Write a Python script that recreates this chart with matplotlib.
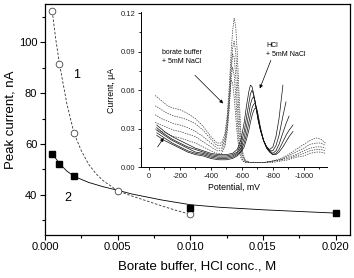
import numpy as np
import matplotlib
matplotlib.use('Agg')
import matplotlib.pyplot as plt
from matplotlib.ticker import MultipleLocator

plt.rcParams['font.family'] = ['Liberation Sans', 'DejaVu Sans']
plt.rcParams['axes.unicode_minus'] = False

# main plot: peak current vs electrolyte concentration
conc_borate = [0.0005, 0.001, 0.002, 0.005, 0.010]
peak_borate = [112.3, 91.5, 64.2, 41.5, 32.2]
conc_hcl = [0.0005, 0.001, 0.002, 0.010, 0.020]
peak_hcl = [56.0, 52.0, 47.2, 34.8, 32.7]

# fitted curves
fit1_x = [0.0005, 0.00075, 0.001, 0.0015, 0.002, 0.0025, 0.003, 0.0035, 0.004,
          0.005, 0.006, 0.007, 0.008, 0.009, 0.010]
fit1_y = [112.3, 101.0, 91.5, 76.0, 64.2, 57.3, 52.0, 48.3, 45.5,
          41.5, 39.4, 37.5, 35.6, 33.8, 32.2]
fit2_x = [0.0005, 0.001, 0.0015, 0.002, 0.003, 0.004, 0.005, 0.006, 0.008,
          0.010, 0.012, 0.015, 0.018, 0.020]
fit2_y = [56.2, 52.2, 49.3, 47.2, 44.8, 43.1, 41.7, 40.2, 37.9,
          36.0, 35.0, 34.0, 33.2, 32.7]

# inset: voltammograms (potential in mV, current in uA)
pot_borate = [-40, -80, -120, -160, -200, -250, -300, -350, -400, -440, -470,
              -490, -505, -518, -530, -540, -550, -560, -570, -580, -592,
              -605, -620, -650, -700, -750, -800, -850, -900, -950, -1000,
              -1040, -1080, -1110, -1140]
borate_1 = [0.056, 0.052, 0.048, 0.046, 0.045, 0.042, 0.038, 0.032, 0.024, 0.019, 0.019,
            0.026, 0.040, 0.062, 0.088, 0.106, 0.116, 0.110, 0.090, 0.062, 0.030,
            0.012, 0.006, 0.004, 0.004, 0.004, 0.005, 0.007, 0.010, 0.014, 0.018,
            0.021, 0.023, 0.022, 0.019]
borate_2 = [0.048, 0.045, 0.042, 0.040, 0.039, 0.037, 0.034, 0.029, 0.022, 0.017, 0.017,
            0.023, 0.036, 0.056, 0.078, 0.093, 0.098, 0.090, 0.070, 0.045, 0.022,
            0.010, 0.005, 0.004, 0.004, 0.004, 0.005, 0.006, 0.009, 0.012, 0.015,
            0.018, 0.019, 0.019, 0.017]
borate_3 = [0.041, 0.038, 0.036, 0.034, 0.033, 0.031, 0.028, 0.024, 0.019, 0.015, 0.015,
            0.021, 0.033, 0.052, 0.073, 0.088, 0.086, 0.072, 0.050, 0.030, 0.015,
            0.008, 0.005, 0.004, 0.004, 0.004, 0.005, 0.006, 0.008, 0.010, 0.013,
            0.015, 0.016, 0.016, 0.015]
borate_4 = [0.035, 0.033, 0.031, 0.029, 0.028, 0.026, 0.024, 0.020, 0.016, 0.013, 0.013,
            0.018, 0.030, 0.048, 0.068, 0.078, 0.072, 0.056, 0.037, 0.021, 0.011,
            0.006, 0.004, 0.004, 0.004, 0.004, 0.005, 0.006, 0.007, 0.009, 0.011,
            0.013, 0.014, 0.014, 0.013]
borate_5 = [0.030, 0.028, 0.026, 0.024, 0.023, 0.021, 0.019, 0.016, 0.013, 0.011, 0.011,
            0.016, 0.027, 0.045, 0.068, 0.066, 0.055, 0.040, 0.026, 0.015, 0.008,
            0.005, 0.004, 0.004, 0.004, 0.004, 0.004, 0.005, 0.006, 0.008, 0.009,
            0.011, 0.012, 0.012, 0.011]

pot_hcl = [-50, -100, -150, -200, -250, -300, -350, -400, -450, -500, -540,
           -570, -595, -615, -630, -645, -655, -665, -675, -685, -695, -705,
           -720, -740, -760, -780, -800, -820, -840, -865, -885, -905, -930]
nan = np.nan
hcl_1 = [0.033, 0.028, 0.024, 0.021, 0.018, 0.015, 0.013, 0.011, 0.010, 0.010, 0.011,
         0.014, 0.022, 0.035, 0.048, 0.059, 0.064, 0.063, 0.058, 0.051, 0.044, 0.037,
         0.029, 0.021, 0.016, 0.014, 0.016, 0.024, 0.038, 0.064, nan, nan, nan]
hcl_2 = [0.031, 0.026, 0.022, 0.019, 0.016, 0.014, 0.012, 0.010, 0.009, 0.009, 0.010,
         0.012, 0.018, 0.028, 0.039, 0.050, 0.057, 0.060, 0.057, 0.051, 0.044, 0.037,
         0.029, 0.021, 0.016, 0.013, 0.013, 0.017, 0.025, 0.040, 0.051, nan, nan]
hcl_3 = [0.029, 0.025, 0.021, 0.018, 0.015, 0.012, 0.011, 0.009, 0.008, 0.008, 0.009,
         0.011, 0.015, 0.023, 0.032, 0.042, 0.049, 0.053, 0.055, 0.052, 0.045, 0.038,
         0.029, 0.021, 0.016, 0.013, 0.011, 0.013, 0.018, 0.027, 0.034, 0.040, nan]
hcl_4 = [0.027, 0.023, 0.019, 0.016, 0.013, 0.011, 0.010, 0.008, 0.007, 0.007, 0.008,
         0.010, 0.013, 0.019, 0.026, 0.035, 0.041, 0.046, 0.049, 0.050, 0.046, 0.039,
         0.030, 0.021, 0.015, 0.012, 0.010, 0.011, 0.014, 0.020, 0.025, 0.029, 0.033]
hcl_5 = [0.025, 0.021, 0.018, 0.015, 0.012, 0.010, 0.009, 0.007, 0.006, 0.006, 0.007,
         0.009, 0.012, 0.016, 0.022, 0.029, 0.035, 0.040, 0.044, 0.046, 0.046, 0.041,
         0.031, 0.021, 0.015, 0.012, 0.010, 0.010, 0.012, 0.016, 0.020, 0.024, 0.028]


fig = plt.figure(figsize=(3.54, 2.78), dpi=100)
ax = fig.add_axes([0.127, 0.156, 0.862, 0.830])

ax.plot(fit1_x, fit1_y, color='#333333', lw=0.6, ls=(0, (3, 2)))
ax.plot(fit2_x, fit2_y, color='black', lw=0.6)
ax.plot(conc_borate, peak_borate, ls='none', marker='o', ms=4.8,
        mfc='white', mec='#444444', mew=0.6)
ax.plot(conc_hcl, peak_hcl, ls='none', marker='s', ms=4,
        mfc='black', mec='black')

ax.text(0.0022, 87, '1', fontsize=9, ha='center', va='center')
ax.text(0.00155, 38.5, '2', fontsize=9, ha='center', va='center')

ax.set_xlim(0, 0.021)
ax.set_ylim(24.2, 115.2)
ax.xaxis.set_major_locator(MultipleLocator(0.005))
ax.xaxis.set_minor_locator(MultipleLocator(0.0025))
ax.yaxis.set_major_locator(MultipleLocator(20))
ax.yaxis.set_minor_locator(MultipleLocator(10))
ax.set_yticks([40, 60, 80, 100])
ax.set_xticklabels(['%.3f' % v for v in ax.get_xticks()])
ax.tick_params(which='major', direction='out', length=3.5, width=0.8, labelsize=8, pad=2)
ax.tick_params(which='minor', direction='out', length=2, width=0.8)
for s in ax.spines.values():
    s.set_linewidth(0.9)
ax.set_xlabel('Borate buffer, HCl conc., M', fontsize=9.5, labelpad=6)
ax.set_ylabel('Peak current, nA', fontsize=9.5, labelpad=2)

# inset
axi = fig.add_axes([0.398, 0.3975, 0.525, 0.5576])
for ys in [borate_1, borate_2, borate_3, borate_4, borate_5]:
    axi.plot(pot_borate, ys, color='#3a3a3a', lw=0.5, ls=(0, (2, 1.5)))
for ys in [hcl_1, hcl_2, hcl_3, hcl_4, hcl_5]:
    axi.plot(pot_hcl, ys, color='#111111', lw=0.5)

axi.set_xlim(52, -1148)
axi.set_ylim(0, 0.1205)
axi.spines['top'].set_visible(False)
axi.spines['right'].set_visible(False)
axi.xaxis.set_major_locator(MultipleLocator(200))
axi.xaxis.set_minor_locator(MultipleLocator(100))
axi.set_yticks([0, 0.03, 0.06, 0.09, 0.12])
axi.yaxis.set_minor_locator(MultipleLocator(0.015))
axi.set_yticklabels(['0.00', '0.03', '0.06', '0.09', '0.12'])
axi.tick_params(which='major', direction='out', length=2.5, width=0.6, labelsize=5.5,
                pad=1.5, labelcolor='#222222')
axi.tick_params(which='minor', direction='out', length=1.5, width=0.6)
for s in axi.spines.values():
    s.set_linewidth(0.7)
axi.set_xlabel('Potential, mV', fontsize=6.3, labelpad=2)
axi.set_ylabel('Current, \u03bcA', fontsize=6.3, labelpad=3)

axi.text(-82, 0.086, 'borate buffer\n+ 5mM NaCl', fontsize=5, ha='left', va='center',
         linespacing=1.5)
axi.text(-755, 0.0915, 'HCl\n+ 5mM NaCl', fontsize=5, ha='left', va='center',
         linespacing=1.5)
arrow = dict(arrowstyle='-|>', lw=0.5, color='black', mutation_scale=5,
             shrinkA=0, shrinkB=0)
axi.annotate('', xy=(-479, 0.0498), xytext=(-297, 0.0717), arrowprops=arrow)
axi.annotate('', xy=(-716, 0.0614), xytext=(-787, 0.0833), arrowprops=arrow)
axi.annotate('', xy=(-95, 0.023), xytext=(-56, 0.016), arrowprops=arrow)

fig.savefig('out.png', dpi=100)
